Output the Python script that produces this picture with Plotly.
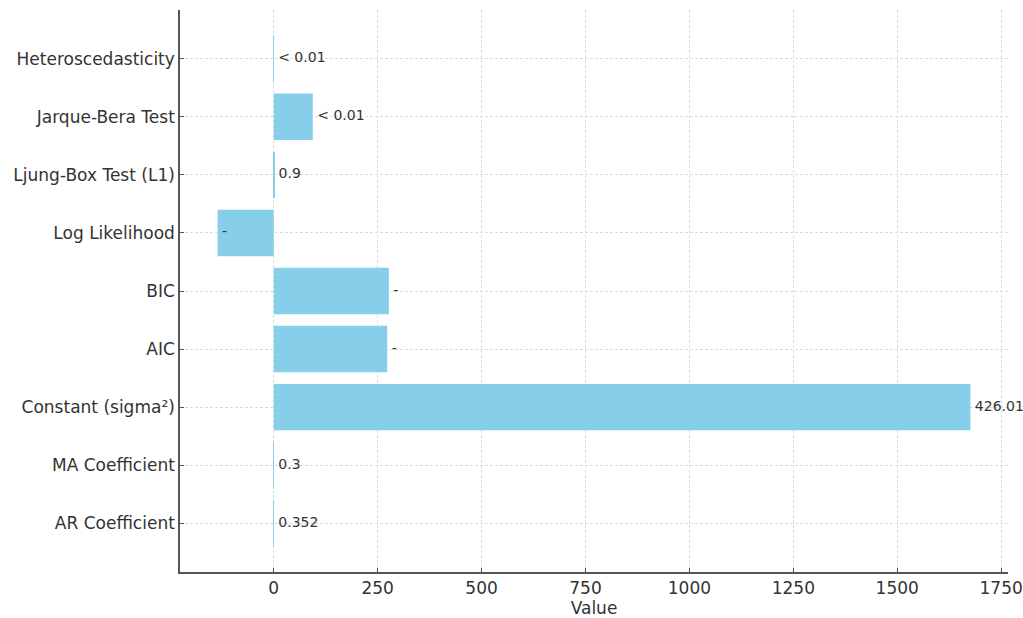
import plotly.graph_objects as go

categories = ["AR Coefficient", "MA Coefficient", "Constant (sigma²)", "AIC", "BIC",
              "Log Likelihood", "Ljung-Box Test (L1)", "Jarque-Bera Test", "Heteroscedasticity"]
values = [0.352, 0.3, 1676, 273, 277, -135, 0.9, 94, 0.01]
labels = ["0.352", "0.3", "426.01", "-", "-", "-", "0.9", "< 0.01", "< 0.01"]
x_ticks = [0, 250, 500, 750, 1000, 1250, 1500, 1750]

fig = go.Figure()
fig.add_trace(go.Bar(
    y=categories, x=values, orientation="h",
    marker=dict(color="#87CEEB", line=dict(width=0)),
    width=0.8, showlegend=False, hoverinfo="x+y",
))
fig.add_trace(go.Scatter(
    y=categories, x=values, mode="text", text=labels,
    texttemplate=" %{text}",
    textposition="middle right",
    textfont=dict(family="DejaVu Sans", size=14, color="#333333"),
    showlegend=False, hoverinfo="skip", cliponaxis=False,
))

axis_common = dict(
    showline=True, linecolor="#555555", linewidth=1.5,
    ticks="inside", ticklen=4, tickcolor="#555555", tickwidth=1.2,
    showgrid=True, gridcolor="#dcdcdc", griddash="3px,2px", gridwidth=1,
    zeroline=False, automargin=False,
    tickfont=dict(family="DejaVu Sans", size=17, color="#333333"),
)

fig.update_layout(
    width=1023, height=618,
    margin=dict(l=180, r=15, t=10, b=46),
    plot_bgcolor="white", paper_bgcolor="white",
    bargap=0.2,
    xaxis=dict(range=[-225.5, 1766.5], tickvals=x_ticks,
               ticktext=[str(t) for t in x_ticks],
               title=dict(text="Value", font=dict(family="DejaVu Sans", size=17, color="#333333"),
                          standoff=4),
               **axis_common),
    yaxis=dict(range=[-0.84, 8.84], categoryorder="array", categoryarray=categories,
               **axis_common),
)

fig.write_html("out.html", config={"displayModeBar": False},
               post_script="document.body.style.margin='0';document.body.style.overflow='hidden';")
